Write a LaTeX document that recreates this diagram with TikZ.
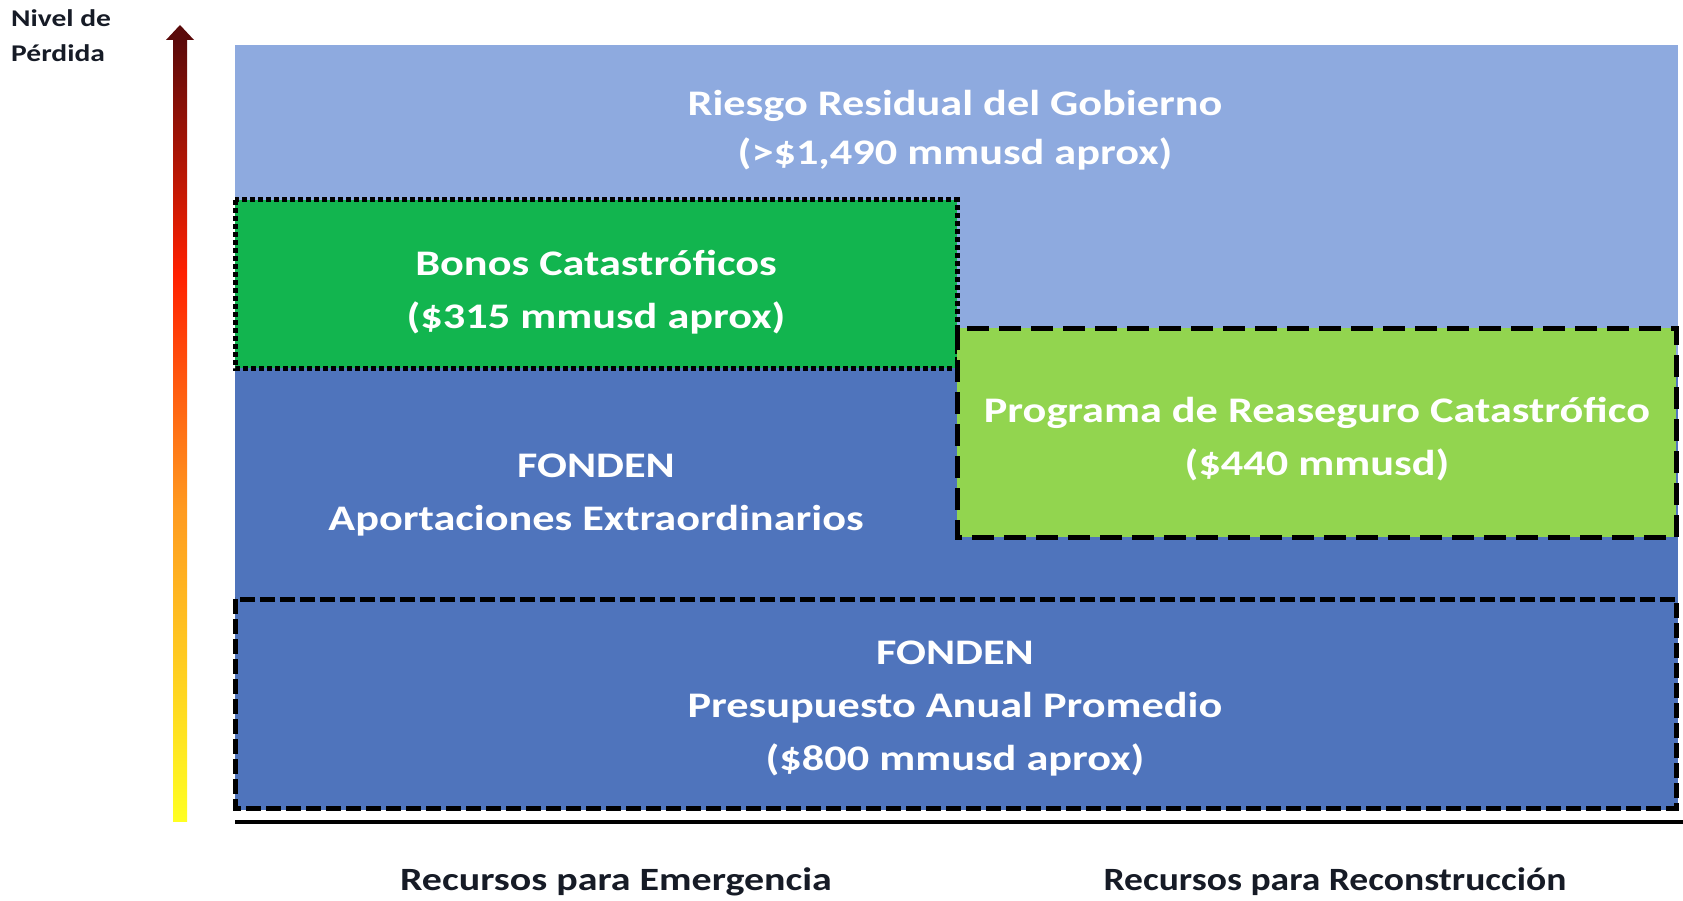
\documentclass[tikz,border=0pt]{standalone}
\usepackage{fontspec}
\setmainfont{Carlito}[FakeStretch=1.23]
\definecolor{lightblue}{HTML}{8EAADF}
\definecolor{darkblue}{HTML}{4F74BC}
\definecolor{bonosgreen}{HTML}{12B54F}
\definecolor{progreen}{HTML}{92D54F}
\definecolor{axisdark}{HTML}{5A0A0A}
\definecolor{axisred}{HTML}{FF2000}
\definecolor{axisorange}{HTML}{FF9A20}
\definecolor{axisyellow}{HTML}{FFFF22}
\definecolor{labeldark}{HTML}{161B26}
\pgfdeclareverticalshading{lossgrad}{100bp}{color(0bp)=(axisyellow); color(25bp)=(axisyellow); color(45bp)=(axisorange); color(60bp)=(axisred); color(75bp)=(axisdark); color(100bp)=(axisdark)}
\begin{document}
\begin{tikzpicture}[x=1pt,y=-1pt,
  boxlabel/.style={text=white, font=\bfseries\fontsize{36}{53}\selectfont, align=center, inner sep=0pt},
  sidelabel/.style={text=labeldark, font=\bfseries\fontsize{24}{35}\selectfont, align=left, inner sep=0pt},
  footlabel/.style={text=labeldark, font=\bfseries\fontsize{32.5}{40}\selectfont, inner sep=0pt},
  dotborder/.style={draw=black, line width=5pt, dash pattern=on 5pt off 3pt},
  longdash/.style={draw=black, line width=5pt, dash pattern=on 22pt off 10pt},
  shortdash/.style={draw=black, line width=5pt, dash pattern=on 15pt off 5pt}]
\useasboundingbox (0,0) rectangle (1683,901);
% areas
\fill[lightblue] (235,45) rectangle (1678,368);
\fill[darkblue] (235,368) rectangle (1678,810);
\fill[bonosgreen] (235,200) rectangle (957,368);
\draw[dotborder] (235,200) rectangle (957,368);
\fill[progreen] (957,328) rectangle (1676,537);
\draw[longdash] (957,328) rectangle (1676,537);
\draw[shortdash] (235,599) rectangle (1676,808);
% base line
\coordinate (baseL) at (235,822);
\coordinate (baseR) at (1683,822);
\draw[line width=4pt] (baseL) -- (baseR);
% loss axis
\shade[shading=lossgrad] (173,39) rectangle (187,821);
\fill[axisdark] (166,40) -- (180,25) -- (194,40) -- cycle;
% labels
\node[sidelabel, anchor=west] (nivel) at (11,36) {Nivel de\\Pérdida};
\node[boxlabel, font=\bfseries\fontsize{36}{49}\selectfont] (riesgo) at (955,130) {Riesgo Residual del Gobierno\\(>\$1,490 mmusd aprox)};
\node[boxlabel] (bonos) at (596,292.5) {Bonos Catastróficos\\(\$315 mmusd aprox)};
\node[boxlabel] (aport) at (596,495) {FONDEN\\Aportaciones Extraordinarios};
\node[boxlabel] (programa) at (1317,439.5) {Programa de Reaseguro Catastrófico\\(\$440 mmusd)};
\node[boxlabel] (presup) at (955,709) {FONDEN\\Presupuesto Anual Promedio\\(\$800 mmusd aprox)};
\node[footlabel] (emerg) at (616,882) {Recursos para Emergencia};
\node[footlabel] (recons) at (1335,882) {\scalebox{0.94}[1]{Recursos para Reconstrucción}};
\end{tikzpicture}
\end{document}
